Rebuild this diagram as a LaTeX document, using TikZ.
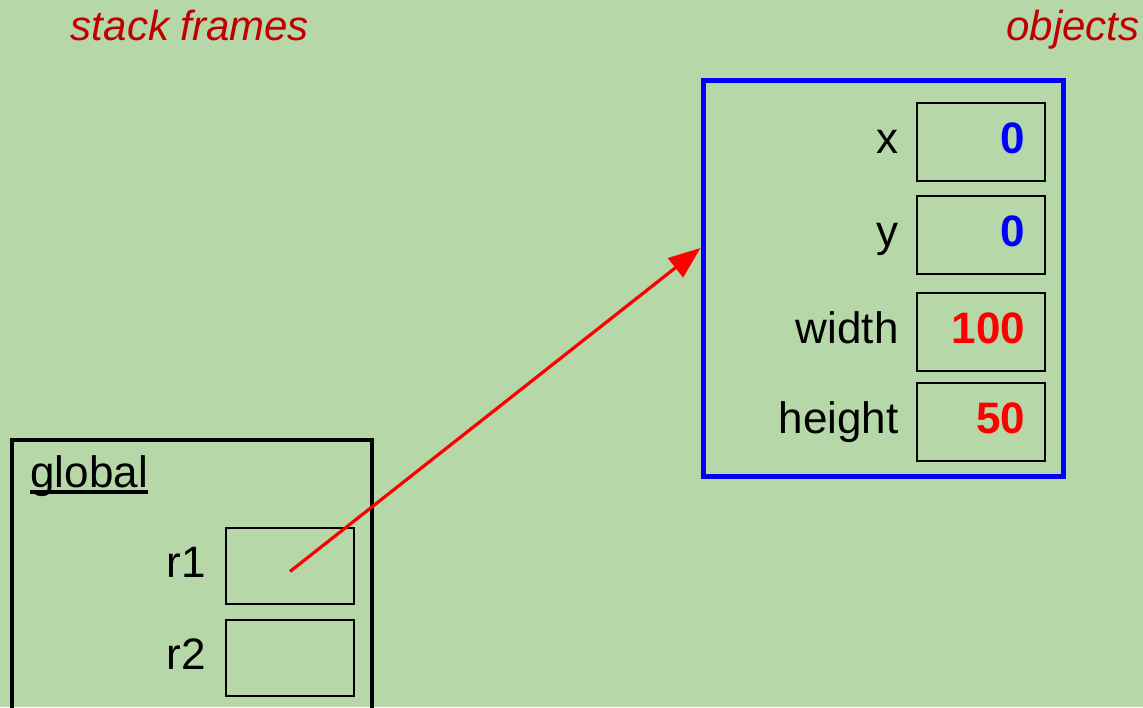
\documentclass[tikz,border=0pt]{standalone}
\usepackage{fontspec}
\setmainfont{Liberation Sans}
\usepackage{tikz}
\usetikzlibrary{arrows.meta,positioning}
\definecolor{bggreen}{HTML}{B6D7A8}
\definecolor{titlered}{HTML}{C00000}

\begin{document}
\begin{tikzpicture}[
    x=0.5pt, y=-0.5pt,
    font=\fontsize{22}{26}\selectfont,
    title/.style={text=titlered, font=\fontsize{21}{25}\selectfont\itshape, inner sep=0pt},
    lbl/.style={inner sep=0pt, text height=12pt, text depth=0pt},
    valbox/.style={draw, line width=1pt, minimum width=64pt, minimum height=39pt, inner xsep=10pt, text width=44pt, align=right, text height=12pt, text depth=0pt, font=\fontsize{22}{26}\selectfont\bfseries},
    refbox/.style={draw, line width=1pt, minimum width=64pt, minimum height=38pt},
    objbox/.style={draw=blue, line width=2.5pt, minimum width=180pt, minimum height=198pt}
]
\useasboundingbox[fill=bggreen] (0,0) rectangle (1143,707);

\node[title, anchor=base] (stk) at (190,40) {stack frames};
\node[title, anchor=base east] (objs) at (1140,40) {objects};

% object
\node[objbox] (obj) at (883,278) {};
\node[valbox, text=blue] (xval) at (981,141.5) {0};
\node[valbox, text=blue, below=6.5pt of xval] (yval) {0};
\node[valbox, text=red, below=8.5pt of yval] (wval) {100};
\node[valbox, text=red, below=5pt of wval] (hval) {50};
\node[lbl, left=8.5pt of xval] (xlbl) {x};
\node[lbl, left=8.5pt of yval] (ylbl) {y};
\node[lbl, left=8.5pt of wval] (wlbl) {width};
\node[lbl, left=8.5pt of hval] (hlbl) {height};

% global frame
\draw[line width=2pt] (12,720) |- (372,440) -- (372,720);
\node[anchor=base west, inner sep=0pt] (glob) at (30,487) {global};
\draw[line width=2pt] ([yshift=-2.3pt]glob.base west) -- ([yshift=-2.3pt]glob.base east);
\node[refbox] (r1val) at (290,565.5) {};
\node[refbox, below=7pt of r1val] (r2val) {};
\node[lbl, left=9.5pt of r1val] (r1lbl) {r1};
\node[lbl, left=9.5pt of r2val] (r2lbl) {r2};

\draw[red, line width=1.6pt, -{Triangle[length=16pt, width=12pt]}] ([yshift=-3pt]r1val.center) -- ([yshift=15pt]obj.west);
\end{tikzpicture}
\end{document}
